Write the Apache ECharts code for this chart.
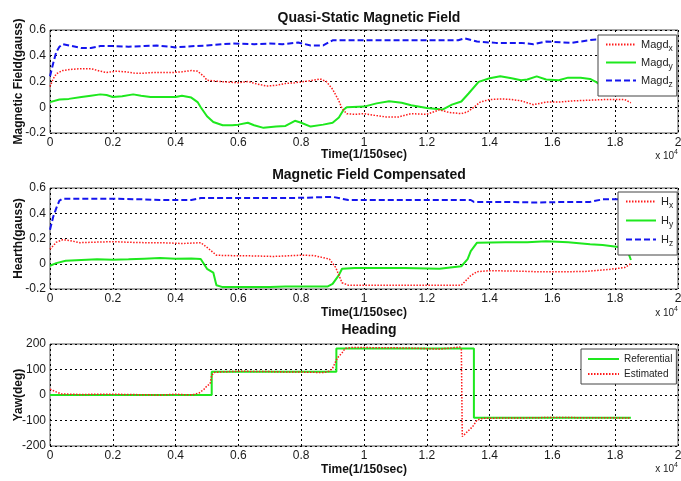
<!DOCTYPE html>
<html>
<head>
<meta charset="utf-8">
<script src="https://cdn.jsdelivr.net/npm/echarts@6/dist/echarts.min.js"></script>
<style>
  html, body { margin: 0; padding: 0; background: #fff; }
  #chart { width: 681px; height: 481px; }
</style>
</head>
<body>
<div id="chart"></div>
<script>
// Time in units of 1e4 samples (1/150 s each); values in gauss / degrees.
const xTicks = [0, 0.2, 0.4, 0.6, 0.8, 1, 1.2, 1.4, 1.6, 1.8, 2];

// Quasi-static magnetic field
const magdX = [[0,0.16],[0.01,0.22],[0.02,0.26],[0.04,0.285],[0.07,0.295],[0.1,0.30],[0.13,0.30],[0.16,0.28],[0.18,0.27],[0.21,0.28],[0.24,0.275],[0.27,0.265],[0.3,0.265],[0.33,0.27],[0.36,0.27],[0.39,0.27],[0.42,0.275],[0.45,0.285],[0.47,0.28],[0.49,0.24],[0.5,0.21],[0.54,0.2],[0.57,0.195],[0.6,0.19],[0.63,0.2],[0.66,0.18],[0.69,0.165],[0.72,0.17],[0.75,0.185],[0.78,0.19],[0.81,0.2],[0.84,0.21],[0.86,0.22],[0.88,0.2],[0.9,0.14],[0.92,0.05],[0.93,-0.01],[0.945,-0.05],[0.97,-0.055],[1.0,-0.05],[1.04,-0.065],[1.07,-0.075],[1.11,-0.075],[1.15,-0.05],[1.2,-0.055],[1.24,-0.02],[1.27,-0.04],[1.31,-0.05],[1.33,-0.035],[1.35,0.0],[1.37,0.04],[1.4,0.06],[1.44,0.065],[1.47,0.06],[1.5,0.05],[1.54,0.02],[1.58,0.04],[1.62,0.04],[1.67,0.05],[1.72,0.055],[1.77,0.06],[1.83,0.06],[1.85,0.035]];
const magdY = [[0,0.04],[0.03,0.06],[0.06,0.065],[0.1,0.08],[0.13,0.09],[0.16,0.1],[0.18,0.095],[0.2,0.08],[0.23,0.085],[0.265,0.1],[0.29,0.09],[0.32,0.08],[0.36,0.08],[0.4,0.08],[0.42,0.09],[0.45,0.075],[0.47,0.04],[0.48,0.0],[0.5,-0.07],[0.52,-0.115],[0.55,-0.14],[0.58,-0.14],[0.6,-0.135],[0.63,-0.12],[0.65,-0.14],[0.68,-0.16],[0.72,-0.15],[0.75,-0.145],[0.78,-0.105],[0.8,-0.12],[0.83,-0.15],[0.87,-0.135],[0.9,-0.12],[0.92,-0.08],[0.935,-0.02],[0.945,0.0],[1.0,0.005],[1.04,0.03],[1.08,0.047],[1.12,0.035],[1.15,0.015],[1.2,-0.005],[1.25,-0.018],[1.28,0.02],[1.31,0.045],[1.333,0.107],[1.365,0.197],[1.4,0.225],[1.434,0.24],[1.47,0.225],[1.5,0.21],[1.52,0.215],[1.55,0.24],[1.58,0.215],[1.62,0.21],[1.65,0.23],[1.69,0.23],[1.72,0.22],[1.74,0.195],[1.77,0.145],[1.8,0.13],[1.85,0.12]];
const magdZ = [[0,0.24],[0.01,0.34],[0.02,0.43],[0.03,0.47],[0.04,0.49],[0.07,0.475],[0.1,0.46],[0.13,0.46],[0.16,0.475],[0.2,0.475],[0.25,0.47],[0.3,0.475],[0.34,0.48],[0.4,0.465],[0.46,0.475],[0.5,0.48],[0.58,0.495],[0.65,0.49],[0.7,0.495],[0.74,0.49],[0.79,0.503],[0.83,0.48],[0.87,0.48],[0.9,0.52],[0.96,0.52],[1.1,0.52],[1.2,0.52],[1.3,0.52],[1.32,0.535],[1.36,0.51],[1.42,0.5],[1.5,0.5],[1.54,0.49],[1.58,0.51],[1.66,0.5],[1.73,0.525],[1.85,0.53]];

// Magnetic field after compensation
const hX = [[0,0.115],[0.02,0.17],[0.04,0.19],[0.06,0.185],[0.095,0.167],[0.13,0.17],[0.2,0.175],[0.25,0.17],[0.3,0.167],[0.38,0.165],[0.42,0.16],[0.48,0.167],[0.5,0.13],[0.53,0.068],[0.56,0.065],[0.65,0.062],[0.71,0.058],[0.75,0.062],[0.8,0.068],[0.84,0.065],[0.89,0.037],[0.91,-0.03],[0.93,-0.15],[0.95,-0.17],[1.05,-0.17],[1.15,-0.17],[1.25,-0.17],[1.31,-0.17],[1.34,-0.094],[1.36,-0.063],[1.4,-0.055],[1.48,-0.058],[1.55,-0.063],[1.62,-0.063],[1.7,-0.062],[1.78,-0.045],[1.83,-0.03],[1.85,0.0]];
const hY = [[0,-0.016],[0.02,0.005],[0.05,0.024],[0.1,0.03],[0.15,0.035],[0.2,0.032],[0.25,0.035],[0.3,0.04],[0.35,0.045],[0.4,0.04],[0.45,0.042],[0.48,0.037],[0.5,-0.04],[0.52,-0.07],[0.53,-0.17],[0.55,-0.185],[0.6,-0.185],[0.7,-0.185],[0.75,-0.18],[0.8,-0.18],[0.885,-0.18],[0.9,-0.16],[0.92,-0.09],[0.93,-0.04],[0.97,-0.034],[1.0,-0.034],[1.13,-0.034],[1.24,-0.04],[1.31,-0.02],[1.33,0.037],[1.34,0.1],[1.36,0.167],[1.45,0.17],[1.52,0.17],[1.58,0.178],[1.65,0.17],[1.72,0.155],[1.76,0.148],[1.81,0.133],[1.84,0.1],[1.85,0.03]];
const hZ = [[0,0.27],[0.01,0.37],[0.02,0.44],[0.03,0.5],[0.04,0.515],[0.1,0.515],[0.2,0.515],[0.3,0.51],[0.35,0.505],[0.45,0.505],[0.48,0.52],[0.6,0.52],[0.7,0.52],[0.8,0.522],[0.9,0.53],[0.93,0.515],[0.95,0.505],[1.1,0.505],[1.2,0.505],[1.34,0.505],[1.35,0.49],[1.45,0.49],[1.55,0.485],[1.65,0.49],[1.72,0.49],[1.76,0.51],[1.85,0.51]];

// Heading
const yawRef = [[0,0],[0.515,0],[0.515,91],[0.912,91],[0.912,182],[1.35,182],[1.35,-89],[1.85,-89]];
const yawEst = [[0,23],[0.02,12],[0.037,4],[0.07,3],[0.1,2],[0.15,3],[0.2,3],[0.25,2],[0.3,1],[0.35,0],[0.4,3],[0.43,1],[0.455,1],[0.475,8],[0.49,22],[0.5,36],[0.51,44],[0.515,78],[0.525,89],[0.55,91],[0.6,93],[0.7,92],[0.75,90],[0.8,90],[0.87,88],[0.89,93],[0.9,105],[0.915,145],[0.93,165],[0.94,183],[0.96,186],[1.0,186],[1.1,185],[1.15,184],[1.24,180],[1.29,186],[1.305,188],[1.31,180],[1.313,-163],[1.346,-124],[1.36,-98],[1.38,-91],[1.5,-90],[1.6,-88],[1.7,-89],[1.85,-90]];

const FONT = '"Liberation Sans", Arial, sans-serif';
const RED = '#ff1a1a', GREEN = '#1ee81e', BLUE = '#1515ee';

const grids = [
  { left: 50, top: 30, width: 628, height: 103 },
  { left: 50, top: 188, width: 628, height: 101 },
  { left: 50, top: 344, width: 628, height: 102 }
].map(g => Object.assign({
  show: true, borderColor: '#555', borderWidth: 1, backgroundColor: '#fff',
  containLabel: false, outerBoundsMode: 'none'
}, g));

const gridLine = { show: true, lineStyle: { color: '#000', width: 1, type: [2, 3] } };
const axisLabel = { color: '#1a1a1a', fontFamily: FONT, fontSize: 12 };
const nameStyle = { color: '#111', fontFamily: FONT, fontSize: 12, fontWeight: 'bold' };

function xAxis(i) {
  return {
    type: 'value', gridIndex: i, min: 0, max: 2, interval: 0.2,
    name: 'Time(1/150sec)', nameLocation: 'middle', nameGap: i === 0 ? 16 : 18, nameTextStyle: nameStyle,
    nameMoveOverlap: false,
    axisLine: { show: false }, axisTick: { show: false },
    axisLabel: Object.assign({ margin: 4 }, axisLabel),
    splitLine: gridLine
  };
}
function yAxis(i, name, min, max, interval) {
  return {
    type: 'value', gridIndex: i, min, max, interval,
    name, nameLocation: 'middle', nameGap: 25, nameRotate: 90, nameTextStyle: nameStyle,
    nameMoveOverlap: false,
    axisLine: { show: false }, axisTick: { show: false },
    axisLabel: Object.assign({ margin: 4 }, axisLabel),
    splitLine: gridLine
  };
}

const RED_DOT = { color: RED, width: 1.5, type: [1.5, 1.5] };
const GREEN_SOLID = { color: GREEN, width: 2, type: 'solid' };
const BLUE_DASH = { color: BLUE, width: 2, type: [6, 3] };

function line(name, data, idx, style, z) {
  return {
    name, type: 'line', data, xAxisIndex: idx, yAxisIndex: idx,
    symbol: 'none', smooth: false, lineStyle: style, itemStyle: { color: style.color },
    z: z || 2, animation: false
  };
}

function legend(names, left, top, gap, pad, size, iconW) {
  return {
    data: names, orient: 'vertical', left, top,
    backgroundColor: '#fff', borderColor: '#444', borderWidth: 1,
    padding: pad, itemGap: gap, itemWidth: iconW, itemHeight: 12,
    itemStyle: { opacity: 0 },
    textStyle: {
      color: '#222', fontFamily: FONT, fontSize: size,
      rich: { s: { fontSize: 8.5, fontFamily: FONT, color: '#222', padding: [8, 0, 0, 0] } }
    },
    formatter: n => n.replace(/_(\w+)$/, '{s|$1}'),
    selectedMode: false
  };
}

function title(text, top) {
  return {
    text, left: 364, top, textAlign: 'center',
    textStyle: { fontFamily: FONT, fontSize: 14, fontWeight: 'bold', color: '#111' }
  };
}

const chart = echarts.init(document.getElementById('chart'), null, { renderer: 'canvas' });
chart.setOption({
  backgroundColor: '#fff',
  animation: false,
  title: [
    title('Quasi-Static Magnetic Field', 6),
    title('Magnetic Field Compensated', 163),
    title('Heading', 318)
  ],
  grid: grids,
  xAxis: [xAxis(0), xAxis(1), xAxis(2)],
  yAxis: [
    yAxis(0, 'Magnetic Field(gauss)', -0.2, 0.6, 0.2),
    yAxis(1, 'Hearth(gauss)', -0.2, 0.6, 0.2),
    yAxis(2, 'Yaw(deg)', -200, 200, 100)
  ],
  legend: [
    legend(['Magd_x', 'Magd_y', 'Magd_z'], 598, 35, 4, [4, 4, 7, 7], 11, 30),
    legend(['H_x', 'H_y', 'H_z'], 618, 192, 5, [4, 4, 7, 7], 11, 30),
    legend(['Referential', 'Estimated'], 581, 349, 5, [5, 4, 5, 6], 10, 31)
  ],
  series: [
    line('Magd_x', magdX, 0, RED_DOT, 3),
    line('Magd_y', magdY, 0, GREEN_SOLID, 2),
    line('Magd_z', magdZ, 0, BLUE_DASH, 2),
    line('H_x', hX, 1, RED_DOT, 3),
    line('H_y', hY, 1, GREEN_SOLID, 2),
    line('H_z', hZ, 1, BLUE_DASH, 2),
    line('Referential', yawRef, 2, GREEN_SOLID, 2),
    line('Estimated', yawEst, 2, RED_DOT, 3)
  ],
  graphic: [0, 1, 2].map(i => ({
    type: 'text', right: 3, top: [149, 306, 462][i],
    style: { rich: { b: { fontSize: 10, fontFamily: FONT, fill: '#222' }, e: { fontSize: 7, fontFamily: FONT, fill: '#222', padding: [0, 0, 8, 0] } },
      text: '{b|x 10}{e|4}' }
  }))
});
</script>
</body>
</html>
